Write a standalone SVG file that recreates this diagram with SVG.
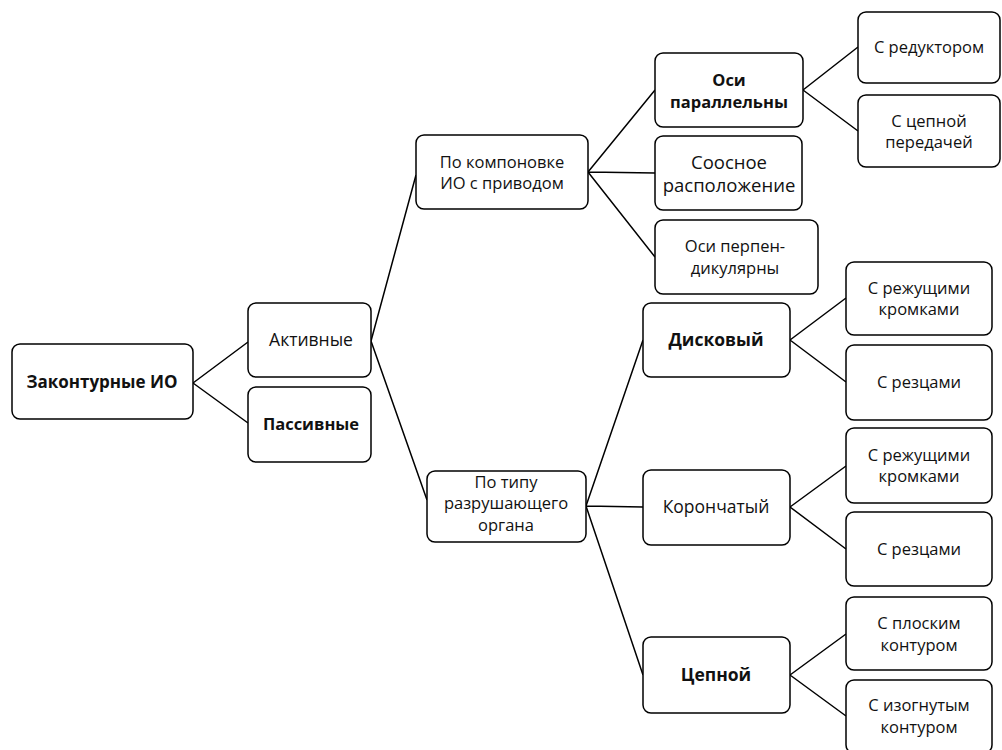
<svg xmlns="http://www.w3.org/2000/svg" width="1002" height="750" viewBox="0 0 1002 750">
<style>
rect{fill:#fff;stroke:#000;stroke-width:1.5}
text{font-family:"Open Sans","Noto Sans","Liberation Sans",sans-serif;font-size:16.5px;fill:#111;text-anchor:middle}
.b{font-weight:bold}
.l{fill:none;stroke:#000;stroke-width:1.5}
</style>
<rect x="0" y="0" width="1002" height="750" style="stroke:none"/>
<g id="connectors" class="l">
<path d="M193,383 L248,342 M193,383 L248,423"/>
<path d="M371,341 L416,175 M371,341 L427,500"/>
<path d="M588,172 L655,90 M588,172 L655,173 M588,172 L655,257"/>
<path d="M803,90 L858,47 M803,90 L858,131"/>
<path d="M586,506 L643,340 M586,506 L643,507 M586,506 L643,675"/>
<path d="M790,340 L846,298 M790,340 L846,382"/>
<path d="M790,507 L846,466 M790,507 L846,549"/>
<path d="M790,675 L846,634 M790,675 L846,716"/>
</g>
<g id="n-root"><rect x="12" y="344" width="181" height="75" rx="8"/><text class="b" x="102" y="388" style="font-size:17px">Законтурные ИО</text></g>
<g id="n-active"><rect x="248" y="303" width="123" height="74" rx="8"/><text x="311" y="346" style="font-size:17.5px">Активные</text></g>
<g id="n-passive"><rect x="248" y="387" width="123" height="75" rx="8"/><text class="b" x="311" y="430">Пассивные</text></g>
<g id="n-layout"><rect x="416" y="135" width="172" height="74" rx="8"/><text x="502" y="168">По компоновке</text><text x="502" y="189">ИО с приводом</text></g>
<g id="n-parallel"><rect x="655" y="53" width="148" height="74" rx="8"/><text class="b" x="729" y="86">Оси</text><text class="b" x="729" y="108">параллельны</text></g>
<g id="n-coaxial"><rect x="655" y="136" width="147" height="74" rx="8"/><text x="729" y="169" style="font-size:18.5px">Соосное</text><text x="729" y="192" style="font-size:18.5px">расположение</text></g>
<g id="n-perp"><rect x="655" y="220" width="163" height="74" rx="8"/><text x="735" y="252">Оси перпен-</text><text x="735" y="274">дикулярны</text></g>
<g id="n-reducer"><rect x="858" y="12" width="142" height="71" rx="8"/><text x="929" y="53">С редуктором</text></g>
<g id="n-chaindrive"><rect x="858" y="95" width="142" height="72" rx="8"/><text x="929" y="127">С цепной</text><text x="929" y="148">передачей</text></g>
<g id="n-type"><rect x="427" y="471" width="159" height="71" rx="8"/><text x="506" y="488">По типу</text><text x="506" y="509">разрушающего</text><text x="506" y="531">органа</text></g>
<g id="n-disc"><rect x="643" y="303" width="147" height="74" rx="8"/><text class="b" x="716" y="346" style="font-size:17.5px">Дисковый</text></g>
<g id="n-crown"><rect x="643" y="470" width="147" height="75" rx="8"/><text x="716" y="513" style="font-size:17.5px">Корончатый</text></g>
<g id="n-chain"><rect x="643" y="637" width="147" height="76" rx="8"/><text class="b" x="716" y="681" style="font-size:17.5px">Цепной</text></g>
<g id="n-edges1"><rect x="846" y="262" width="146" height="73" rx="8"/><text x="919" y="294">С режущими</text><text x="919" y="315">кромками</text></g>
<g id="n-cutters1"><rect x="846" y="345" width="146" height="75" rx="8"/><text x="919" y="388">С резцами</text></g>
<g id="n-edges2"><rect x="846" y="428" width="146" height="75" rx="8"/><text x="919" y="461">С режущими</text><text x="919" y="482">кромками</text></g>
<g id="n-cutters2"><rect x="846" y="512" width="146" height="74" rx="8"/><text x="919" y="555">С резцами</text></g>
<g id="n-flat"><rect x="846" y="597" width="146" height="73" rx="8"/><text x="919" y="629">С плоским</text><text x="919" y="651">контуром</text></g>
<g id="n-curved"><rect x="846" y="680" width="146" height="73" rx="8"/><text x="919" y="711">С изогнутым</text><text x="919" y="733">контуром</text></g>
</svg>
